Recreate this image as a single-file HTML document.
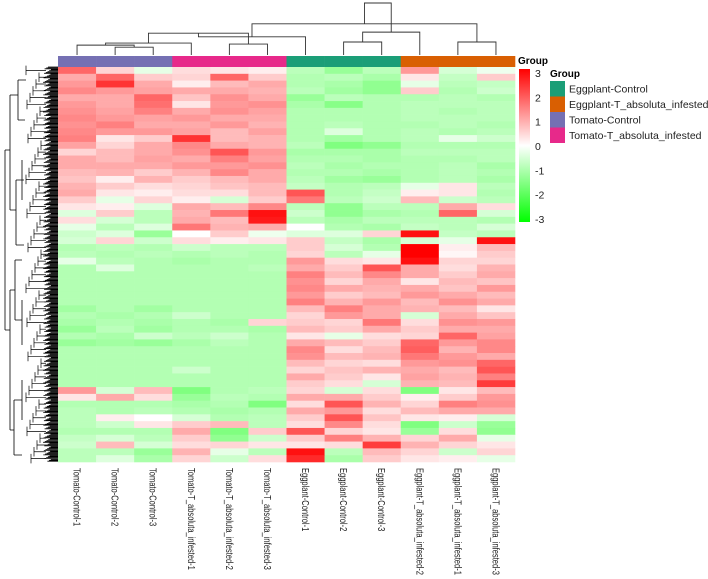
<!DOCTYPE html>
<html><head><meta charset="utf-8"><style>
body{margin:0;background:#fff;overflow:hidden;}
svg{display:block;font-family:"Liberation Sans",Arial,sans-serif;}
</style></head><body>
<svg id="chart" width="708" height="579" viewBox="0 0 708 579" xmlns="http://www.w3.org/2000/svg">
<g id="rowdendro" stroke="#000" stroke-width="0.8" fill="none"></g>
<g id="coldendro" stroke="#333" stroke-width="0.9" fill="none"></g>
<g id="groupbar"></g>
<g id="cells"></g>
<g id="collabels"></g>
<g id="legend"></g>
</svg>
<script>
const columns=["Tomato-Control-1","Tomato-Control-2","Tomato-Control-3","Tomato-T_absoluta_infested-1","Tomato-T_absoluta_infested-2","Tomato-T_absoluta_infested-3","Eggplant-Control-1","Eggplant-Control-2","Eggplant-Control-3","Eggplant-T_absoluta_infested-2","Eggplant-T_absoluta_infested-1","Eggplant-T_absoluta_infested-3"];
const columnGroups=["Tomato-Control","Tomato-Control","Tomato-Control","Tomato-T_absoluta_infested","Tomato-T_absoluta_infested","Tomato-T_absoluta_infested","Eggplant-Control","Eggplant-Control","Eggplant-Control","Eggplant-T_absoluta_infested","Eggplant-T_absoluta_infested","Eggplant-T_absoluta_infested"];
const groupNames=["Eggplant-Control","Eggplant-T_absoluta_infested","Tomato-Control","Tomato-T_absoluta_infested"];
const groupColors=["#1B9E77","#D95F02","#7570B3","#E7298A"];
const scaleTicks=[3,2,1,0,-1,-2,-3];
const values=[
[1.8,0.5,-0.3,0.4,0.3,0.2,-0.8,-1.2,-0.8,1.2,-0.5,-0.2],
[1.0,1.8,0.6,0.5,1.8,0.6,-0.9,-0.8,-1.0,0.3,-0.7,0.6],
[1.2,2.4,1.0,0.2,0.8,1.0,-0.9,-1.0,-1.3,-0.3,-0.8,-0.7],
[1.4,1.2,1.1,1.0,1.0,0.9,-0.8,-1.1,-1.3,0.6,-0.9,-0.6],
[1.0,1.0,1.8,0.7,1.3,1.0,-1.2,-0.8,-0.9,-0.9,-0.8,-0.9],
[1.2,1.0,1.7,0.3,1.2,1.3,-1.0,-1.4,-0.9,-0.8,-0.8,-0.8],
[1.3,1.1,1.5,1.0,1.3,1.1,-0.9,-0.9,-0.9,-0.8,-0.9,-0.8],
[1.4,1.2,1.1,1.2,1.0,1.0,-0.9,-0.9,-0.9,-0.8,-0.8,-0.8],
[1.3,1.5,1.0,1.0,1.2,0.9,-0.9,-0.8,-0.9,-0.9,-0.8,-0.9],
[1.4,1.2,1.2,1.1,0.8,1.1,-0.9,-0.4,-0.9,-0.8,-0.9,-0.8],
[1.5,0.3,0.6,2.4,0.8,0.9,-0.9,-1.1,-0.9,-0.8,-0.3,-0.6],
[1.1,0.5,1.0,1.4,1.0,0.9,-0.8,-1.5,-1.3,-0.9,-0.9,-0.9],
[0.5,0.8,1.0,1.3,2.0,1.2,-1.0,-1.0,-1.0,-0.8,-0.8,-0.8],
[1.0,0.8,1.1,1.0,1.5,1.1,-0.9,-0.9,-1.0,-0.9,-0.9,-0.8],
[1.0,1.0,1.0,1.2,1.2,1.3,-0.8,-1.0,-0.9,-0.9,-0.8,-1.0],
[0.8,0.9,0.6,0.9,1.4,1.0,-0.9,-0.9,-1.0,-0.9,-0.8,-0.9],
[0.7,0.2,0.9,0.6,0.8,1.0,-0.8,-1.1,-1.2,-0.9,-0.8,-1.0],
[0.9,0.6,0.4,0.5,0.7,0.8,-0.7,-0.9,-0.8,-0.3,0.3,-0.8],
[1.0,0.3,0.2,0.4,0.4,0.8,2.0,-0.9,-0.7,0.2,0.3,-0.9],
[0.6,-0.3,0.5,0.2,-0.5,0.6,1.6,-0.8,-0.6,0.8,-0.6,-0.8],
[0.3,0.2,-0.4,1.0,0.8,1.4,-0.8,-1.3,-0.8,-0.8,1.0,0.4],
[-0.4,0.6,-0.8,0.9,1.6,2.8,-0.6,-1.3,-1.0,-0.9,1.8,-0.5],
[0.4,-0.5,-0.8,1.0,0.8,2.7,-0.8,-1.0,-0.8,-0.8,-0.8,-0.9],
[-0.3,-0.8,-0.4,1.6,0.9,1.0,0.0,-0.9,-1.0,-0.7,-0.8,-0.5],
[-0.6,-0.4,-1.2,0.0,0.6,-0.2,-0.4,-0.4,0.5,2.8,-0.7,-0.8],
[-0.5,0.5,-0.6,0.4,0.2,0.3,0.6,-0.7,-1.0,-0.5,-0.3,2.8],
[-0.9,-0.8,-0.9,-0.6,-0.8,-0.8,0.6,-0.5,-0.9,3.0,0.2,0.8],
[-0.8,-0.9,-0.8,-0.9,-0.8,-0.9,0.5,-0.8,-0.3,3.0,0.1,0.6],
[-0.3,-0.8,-0.9,-1.0,-0.9,-0.9,1.2,0.4,0.3,2.8,0.5,0.5],
[-0.9,-0.4,-0.9,-0.9,-0.9,-0.8,1.0,0.6,2.0,1.0,0.4,0.9],
[-0.9,-0.9,-0.9,-0.9,-0.9,-0.9,1.5,0.8,1.4,1.0,0.6,1.0],
[-0.9,-0.9,-0.9,-0.9,-0.9,-0.9,1.3,0.5,1.0,0.3,0.8,0.7],
[-0.9,-0.9,-0.9,-0.9,-0.9,-0.9,1.4,1.0,0.9,1.0,0.7,1.2],
[-0.9,-0.9,-0.9,-0.9,-0.9,-0.9,1.2,0.6,0.8,1.2,1.0,0.8],
[-0.9,-0.9,-0.9,-0.9,-0.9,-0.9,1.5,0.9,1.2,0.8,1.3,1.0],
[-1.1,-0.9,-1.1,-0.9,-0.9,-0.9,0.8,1.5,1.0,0.9,0.8,0.3],
[-0.9,-1.0,-0.9,-0.6,-0.9,-0.9,0.5,1.2,1.0,-0.5,1.0,0.7],
[-1.0,-0.9,-1.0,-0.9,-1.0,0.5,0.6,0.5,1.6,0.4,1.3,1.2],
[-1.2,-0.8,-1.1,-0.9,-0.9,-1.0,0.8,0.6,1.0,0.6,1.0,1.0],
[-0.9,-1.0,-0.6,-0.8,-0.6,-0.9,0.3,-0.3,0.4,0.5,1.8,1.1],
[-1.2,-1.1,-1.2,-1.0,-0.8,-0.9,1.0,0.8,0.6,1.8,1.2,1.4],
[-0.9,-0.9,-0.9,-0.9,-0.9,-0.9,1.4,0.4,0.8,1.9,0.9,1.4],
[-0.9,-0.9,-0.9,-0.9,-0.9,-0.9,1.3,0.8,0.9,1.6,1.2,1.0],
[-0.9,-0.9,-0.9,-0.9,-0.9,-0.9,0.8,0.5,0.4,1.2,1.3,1.8],
[-0.9,-0.9,-0.9,-0.6,-0.9,-0.9,0.5,0.7,0.9,1.0,0.8,2.0],
[-0.9,-0.9,-0.9,-0.9,-0.9,-0.9,1.0,0.6,0.3,1.1,0.9,1.5],
[-0.9,-0.9,-0.9,-0.9,-0.9,-0.9,0.6,0.4,-0.5,0.9,0.8,2.3],
[1.2,-0.5,0.8,-1.5,-0.9,-0.8,0.5,-0.5,0.4,-1.5,0.3,0.8],
[0.3,1.0,0.4,-1.2,-0.8,-0.9,1.0,1.0,0.6,0.2,0.6,1.2],
[-0.9,-0.9,-0.9,-1.0,-0.9,-1.5,0.4,2.0,0.9,0.5,1.5,1.3],
[-0.8,-0.9,-0.8,-0.9,-1.0,-0.9,1.0,1.2,0.4,0.8,1.0,1.0],
[-0.8,0.2,0.0,-0.5,-0.9,-0.8,0.6,2.0,0.7,0.3,0.2,-0.5],
[-0.8,-0.6,0.3,0.6,0.8,-0.8,0.4,1.4,0.4,-1.5,-0.6,-1.2],
[-0.9,-0.9,-0.9,1.0,-1.5,0.6,2.0,0.5,0.3,-1.2,0.4,-1.3],
[-0.7,-0.5,-0.8,0.6,-1.3,-0.6,0.6,1.5,0.9,0.5,1.0,-0.3],
[-0.6,0.8,-0.5,0.4,0.5,0.3,0.3,0.4,2.3,0.9,0.5,0.3],
[-0.8,-0.8,-1.2,0.9,-0.3,-0.8,2.8,-0.8,0.8,0.5,-0.6,0.5],
[-0.8,-0.4,-1.0,0.5,-0.6,0.4,2.5,-1.0,0.6,0.3,0.2,-0.3]
];
// column dendrogram merge heights (data units 0..1)
const colMerges=[[1,2,0.15],[0,"a",0.19],[4,5,0.21],[3,"b",0.23],["c","d",0.42],[7,8,0.25],[6,"e",0.35],[10,11,0.25],[9,"f",0.44],["g","h",0.6],["i","j",1.0]];

const NS="http://www.w3.org/2000/svg";
const X0=58,X1=515,Y0=67,Y1=462;
const cw=(X1-X0)/columns.length, rh=(Y1-Y0)/values.length;
const xCol=i=>X0+cw*i, xMid=i=>X0+cw*(i+0.5), yRow=r=>Y0+rh*r;
const yDen=h=>55-h*52;
function color(v){v=Math.max(-3,Math.min(3,v));const t=Math.abs(v)/3;
 if(v>=0){const g=Math.round(255*(1-t));return `rgb(255,${g},${g})`;}
 const c=Math.round(255*(1-t));return `rgb(${c},255,${c})`;}
function mk(tag,attrs,parent){const e=document.createElementNS(NS,tag);for(const k in attrs)e.setAttribute(k,attrs[k]);parent.appendChild(e);return e;}

const cells=document.getElementById('cells');
values.forEach((row,r)=>row.forEach((v,c)=>{
 const e=mk('rect',{x:xCol(c),y:yRow(r),width:cw+0.3,height:rh+0.3,fill:color(v)},cells);
 
 
}));

const gb=document.getElementById('groupbar');
columnGroups.forEach((g,i)=>{
 const e=mk('rect',{x:xCol(i),y:56,width:cw+0.3,height:11,fill:groupColors[groupNames.indexOf(g)]},gb);
 
 
});
const gt=mk('text',{x:518,y:64,'font-size':10,'font-weight':'bold'},gb);gt.textContent="Group";



const cd=document.getElementById('coldendro');
const nodes={};const keys="abcdefghijk";
function nx(k){return typeof k==="number"?xMid(k):nodes[k].x;}
function ny(k){return typeof k==="number"?yDen(0):nodes[k].y;}
colMerges.forEach((m,i)=>{
 const [a,b,h]=m;const y=yDen(h);
 const xa=nx(a),xb=nx(b);
 const p=mk('path',{d:`M${xa},${ny(a)}V${y}H${xb}V${ny(b)}`},cd);
 
 
 nodes[keys[i]]={x:(xa+xb)/2,y:y};
});

const rd=document.getElementById('rowdendro');
let d="";
for(let y=Y0;y<=Y1;y+=0.9){d+=`M${43+((y*7)%8)},${y}H58`;}
mk('path',{d:d,'stroke-width':0.8},rd);
let d2="";
for(let r=0;r<values.length;r+=1){const y=yRow(r)+rh/2;const x=26+((r*13)%16);d2+=`M${x},${y-rh*0.7}V${y+rh*0.7}M${x},${y}H46`;}
mk('path',{d:d2,'stroke-width':0.7},rd);
mk('path',{d:`M5,150V330M5,150H10M10,95V210M10,95H18M10,210H16M16,180V245M5,330H10M10,290V430M10,290H15M10,430H14M18,80V120M18,80H26M18,120H25M14,400V455M14,400H22M14,455H22M15,260V320M15,260H22M15,320H22M16,180H24M16,245H24M22,160V200M22,300V345M22,380V420`},rd);

const cl=document.getElementById('collabels');
columns.forEach((c,i)=>{
 const t=mk('text',{x:0,y:0,'font-size':10.5,fill:'#222',transform:`translate(${xMid(i)-3.5},468) rotate(90) scale(0.72,1)`},cl);
 t.textContent=c;
 
 
});

const lg=document.getElementById('legend');
const defs=mk('defs',{},lg);
const grad=mk('linearGradient',{id:'cg',x1:0,y1:0,x2:0,y2:1},defs);
[3,1.5,0,-1.5,-3].forEach((v,i)=>mk('stop',{offset:i/4,'stop-color':color(v)},grad));
const cb=mk('rect',{x:519,y:69,width:11,height:153,fill:'url(#cg)'},lg);


scaleTicks.forEach(v=>{
 const y=73+(3-v)/6*146;
 const t=mk('text',{x:535,y:y+4,'font-size':10.5,fill:'#222'},lg);t.textContent=String(v);
 
 
});
const lt=mk('text',{x:550,y:77,'font-size':10,'font-weight':'bold'},lg);lt.textContent="Group";


groupNames.forEach((g,i)=>{
 const y=81+i*15.5;
 const r=mk('rect',{x:550,y:y,width:15,height:15.5,fill:groupColors[i]},lg);
 
 
 const t=mk('text',{x:569,y:y+11.5,'font-size':10.5,fill:'#222'},lg);t.textContent=g;
 
 
});
</script>
</body></html>
